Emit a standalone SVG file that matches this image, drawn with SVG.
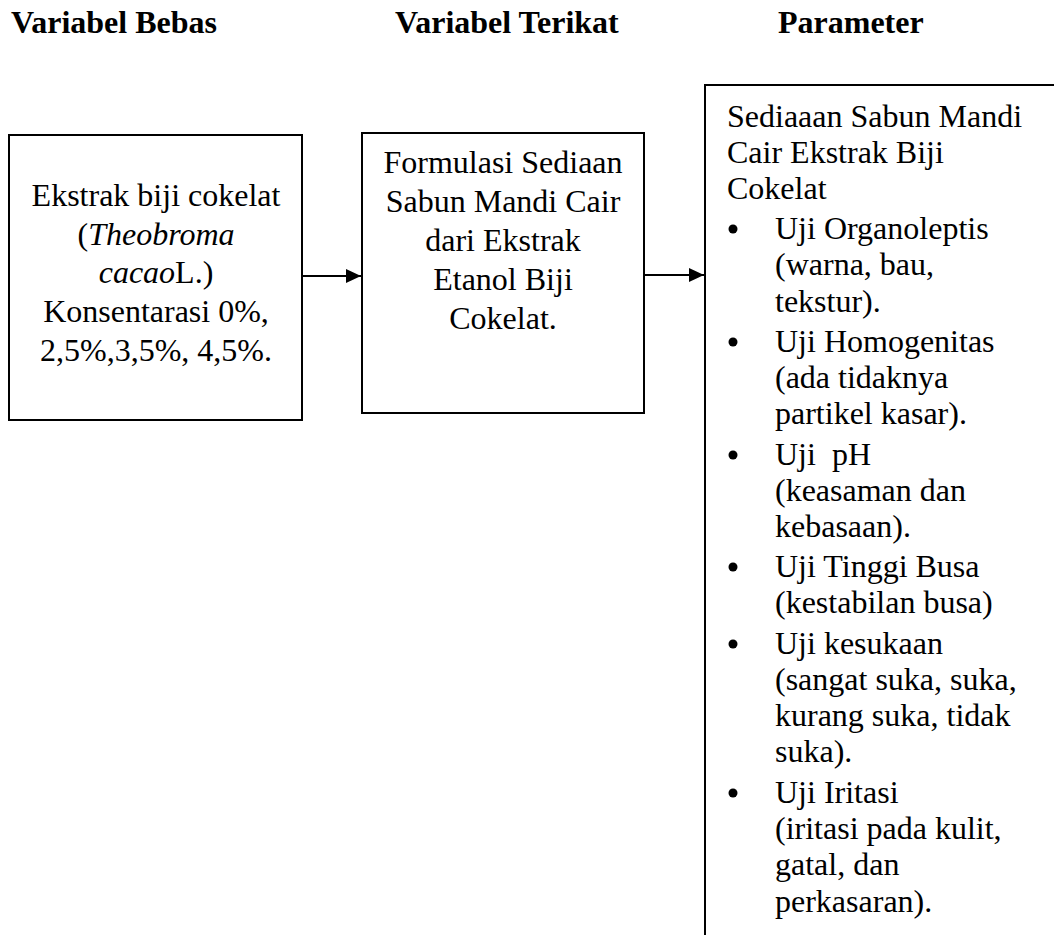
<svg xmlns="http://www.w3.org/2000/svg" width="1054" height="935" viewBox="0 0 1054 935">
<style>
text{font-family:"Liberation Serif","Times New Roman",serif;font-size:32px;fill:#000}
.h{font-weight:bold}
.c{text-anchor:middle}
.box{fill:#fff;stroke:#000;stroke-width:2}
.con{stroke:#000;stroke-width:2;fill:none}
</style>
<defs>
<marker id="ah" viewBox="0 0 15 14" refX="15" refY="7" markerWidth="15" markerHeight="14" markerUnits="userSpaceOnUse" orient="auto">
<path d="M0,0 L15,7 L0,14 Z" fill="#000"/>
</marker>
</defs>
<rect width="1054" height="935" fill="#fff"/>
<g id="headers">
<text class="h" x="11" y="33">Variabel Bebas</text>
<text class="h" x="395" y="33">Variabel Terikat</text>
<text class="h" x="778" y="33">Parameter</text>
</g>
<g id="node-bebas">
<rect class="box" x="9" y="135" width="293" height="285"/>
<text class="c" x="156" y="206">Ekstrak biji cokelat</text>
<text class="c" x="156" y="245">(<tspan font-style="italic">Theobroma</tspan></text>
<text class="c" x="156" y="283"><tspan font-style="italic">cacao</tspan>L.)</text>
<text class="c" x="156" y="322">Konsentarasi 0%,</text>
<text class="c" x="156" y="361">2,5%,3,5%, 4,5%.</text>
</g>
<g id="node-terikat">
<rect class="box" x="362" y="133" width="282" height="280"/>
<text class="c" x="503" y="173">Formulasi Sediaan</text>
<text class="c" x="503" y="212">Sabun Mandi Cair</text>
<text class="c" x="503" y="251">dari Ekstrak</text>
<text class="c" x="503" y="290">Etanol Biji</text>
<text class="c" x="503" y="329">Cokelat.</text>
</g>
<g id="node-parameter">
<rect class="box" x="705" y="85" width="400" height="900"/>
<text x="727" y="127">Sediaaan Sabun Mandi</text>
<text x="727" y="163">Cair Ekstrak Biji</text>
<text x="727" y="199">Cokelat</text>
<g fill="#000">
<circle cx="733" cy="229" r="4.5"/>
<circle cx="733" cy="342" r="4.5"/>
<circle cx="733" cy="455" r="4.5"/>
<circle cx="733" cy="567" r="4.5"/>
<circle cx="733" cy="644" r="4.5"/>
<circle cx="733" cy="793" r="4.5"/>
</g>
<text x="775" y="239">Uji Organoleptis</text>
<text x="775" y="275">(warna, bau,</text>
<text x="775" y="312">tekstur).</text>
<text x="775" y="352">Uji Homogenitas</text>
<text x="775" y="388">(ada tidaknya</text>
<text x="775" y="424">partikel kasar).</text>
<text x="775" y="465" xml:space="preserve">Uji  pH</text>
<text x="775" y="501">(keasaman dan</text>
<text x="775" y="537">kebasaan).</text>
<text x="775" y="577">Uji Tinggi Busa</text>
<text x="775" y="613">(kestabilan busa)</text>
<text x="775" y="654">Uji kesukaan</text>
<text x="775" y="690">(sangat suka, suka,</text>
<text x="775" y="726">kurang suka, tidak</text>
<text x="775" y="762">suka).</text>
<text x="775" y="803">Uji Iritasi</text>
<text x="775" y="839">(iritasi pada kulit,</text>
<text x="775" y="875">gatal, dan</text>
<text x="775" y="912">perkasaran).</text>
</g>
<g id="connectors">
<line class="con" x1="302" y1="276" x2="361" y2="276" marker-end="url(#ah)"/>
<line class="con" x1="644" y1="275" x2="704" y2="275" marker-end="url(#ah)"/>
</g>
</svg>
